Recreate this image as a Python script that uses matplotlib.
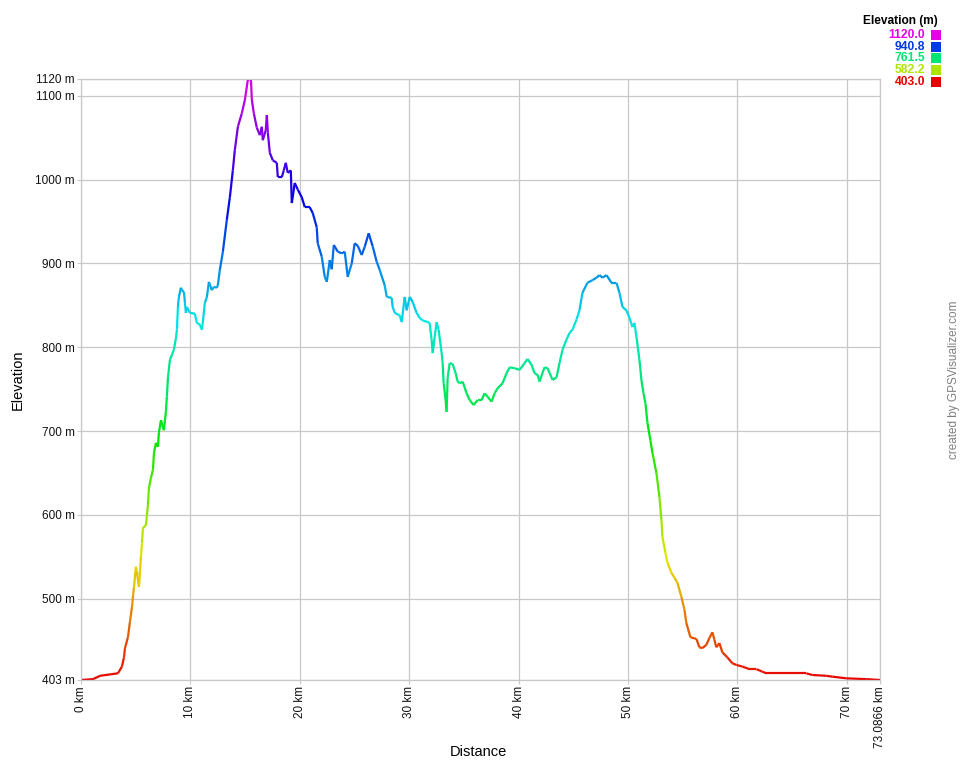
import numpy as np
import matplotlib
matplotlib.use("Agg")
import matplotlib.pyplot as plt
from matplotlib.collections import LineCollection
from matplotlib.colors import hsv_to_rgb
from matplotlib.patches import Rectangle

plt.rcParams['font.family'] = ['Liberation Sans', 'DejaVu Sans']

# track profile: distance (km) and elevation (m)
dist_km = [
    0.00, 1.10, 1.74, 2.83, 3.38, 3.74, 3.93, 4.02, 4.29, 4.47, 4.66, 4.75, 4.84,
    5.02, 5.11, 5.30, 5.48, 5.57, 5.66, 5.94, 6.03, 6.12, 6.21, 6.39, 6.58, 6.67,
    6.85, 7.03, 7.12, 7.31, 7.58, 7.76, 7.85, 7.95, 8.13, 8.31, 8.49, 8.68, 8.77,
    8.86, 8.95, 9.13, 9.22, 9.41, 9.50, 9.59, 9.68, 9.95, 10.41, 10.59, 10.87,
    11.05, 11.14, 11.32, 11.51, 11.69, 11.96, 12.15, 12.42, 12.51, 12.69, 12.97,
    13.33, 13.61, 13.88, 14.06, 14.34, 14.70, 14.98, 15.25, 15.53, 15.62, 15.80,
    16.07, 16.35, 16.53, 16.62, 16.89, 16.99, 17.08, 17.26, 17.53, 17.90, 17.99,
    18.36, 18.54, 18.72, 18.90, 19.18, 19.27, 19.54, 19.82, 20.18, 20.46, 20.91,
    21.19, 21.55, 21.64, 22.01, 22.28, 22.47, 22.74, 22.92, 23.11, 23.47, 23.84,
    24.11, 24.38, 24.75, 25.02, 25.30, 25.66, 25.94, 26.30, 26.67, 27.03, 27.31,
    27.76, 27.95, 28.40, 28.49, 28.68, 29.13, 29.32, 29.59, 29.77, 30.05, 30.32,
    30.68, 30.96, 31.23, 31.69, 31.87, 32.05, 32.15, 32.33, 32.51, 32.69, 32.97,
    33.06, 33.15, 33.33, 33.42, 33.52, 33.70, 33.97, 34.25, 34.43, 34.61, 34.89,
    35.25, 35.53, 35.89, 36.26, 36.62, 36.89, 37.17, 37.53, 37.81, 38.08, 38.54,
    38.90, 39.18, 39.63, 40.09, 40.55, 40.82, 41.19, 41.46, 41.74, 41.92, 42.37,
    42.65, 43.11, 43.47, 43.74, 44.02, 44.38, 44.66, 44.93, 45.30, 45.57, 45.84,
    46.30, 46.76, 47.12, 47.40, 47.67, 48.04, 48.49, 48.95, 49.22, 49.50, 49.86,
    50.14, 50.41, 50.59, 50.78, 51.05, 51.23, 51.42, 51.60, 51.78, 52.05, 52.24,
    52.60, 52.88, 53.06, 53.15, 53.42, 53.61, 53.97, 54.25, 54.52, 54.89, 55.16,
    55.34, 55.71, 56.26, 56.53, 56.80, 57.17, 57.44, 57.72, 57.90, 58.08, 58.36,
    58.63, 59.09, 59.54, 59.91, 60.46, 61.10, 61.74, 62.28, 62.65, 64.47, 66.30,
    66.85, 68.13, 68.68, 69.95, 71.78, 73.0866]
elev_m = [
    403, 404, 408, 410, 411, 419, 430, 441, 454, 472, 490, 502, 513,
    538, 532, 514, 550, 566, 584, 588, 600, 612, 632, 644, 654, 674,
    686, 681, 698, 713, 701, 723, 741, 764, 785, 791, 797, 811, 821,
    848, 860, 871, 868, 866, 853, 841, 848, 841, 840, 829, 827,
    821, 830, 853, 860, 878, 868, 872, 871, 874, 892, 914,
    952, 979, 1011, 1035, 1063, 1079, 1095, 1119, 1120, 1095, 1079,
    1062, 1053, 1063, 1047, 1059, 1077, 1056, 1032, 1023, 1020, 1003,
    1003, 1011, 1020, 1008, 1011, 972, 996, 988, 979, 967, 967,
    960, 943, 924, 908, 884, 878, 904, 893, 922, 914, 912,
    914, 884, 900, 924, 921, 910, 920, 936, 920, 902, 892,
    874, 860, 859, 848, 841, 838, 830, 860, 844, 860, 854,
    841, 835, 832, 830, 829, 809, 793, 812, 830, 821, 793,
    781, 757, 737, 723, 764, 781, 780, 769, 759, 757, 759,
    745, 737, 731, 737, 737, 745, 741, 735, 745, 751, 757,
    769, 776, 775, 773, 781, 786, 779, 769, 767, 759, 776,
    775, 761, 764, 781, 797, 809, 817, 821, 833, 844, 865,
    877, 880, 883, 886, 883, 886, 877, 877, 865, 848, 844,
    835, 824, 829, 812, 785, 761, 745, 733, 710, 689, 674,
    650, 621, 594, 574, 555, 543, 531, 525, 519, 502, 487,
    471, 454, 452, 442, 441, 445, 453, 460, 451, 442, 447,
    436, 430, 423, 421, 419, 416, 416, 413, 411, 411, 411,
    409, 408, 407, 405, 404, 403]

x_ticks = [0, 10, 20, 30, 40, 50, 60, 70, 73.0866]
x_labels = ['0 km', '10 km', '20 km', '30 km', '40 km', '50 km', '60 km', '70 km', '73.0866 km']
y_ticks = [403, 500, 600, 700, 800, 900, 1000, 1100, 1120]
y_labels = ['403 m', '500 m', '600 m', '700 m', '800 m', '900 m', '1000 m', '1100 m', '1120 m']
legend_vals = [1120.0, 940.8, 761.5, 582.2, 403.0]

e_min, e_max = 403.0, 1120.0


def elev_color(e):
    # hue runs red -> magenta over the elevation range
    f = np.clip((np.asarray(e) - e_min) / (e_max - e_min), 0, 1)
    hsv = np.stack([f * 300 / 360, np.ones_like(f), np.full_like(f, 0.9)], axis=-1)
    return hsv_to_rgb(hsv)


W, H = 960, 760
fig = plt.figure(figsize=(W / 100, H / 100), dpi=100)
left, right, top, bottom = 81, 880.5, 79, 680
ax = fig.add_axes([left / W, 1 - bottom / H, (right - left) / W, (bottom - top) / H])

x = np.array(dist_km)
y = np.array(elev_m, dtype=float)
pts = np.column_stack([x, y]).reshape(-1, 1, 2)
segs = np.concatenate([pts[:-1], pts[1:]], axis=1)
mid = (y[:-1] + y[1:]) / 2
lc = LineCollection(segs, colors=elev_color(mid), linewidth=1.6, capstyle='butt', joinstyle='miter')
ax.add_collection(lc)

ax.set_xlim(0, 73.0866)
ax.set_ylim(e_min, e_max)
ax.set_xticks(x_ticks)
ax.set_xticklabels(x_labels, rotation=90, fontsize=8.5)
ax.set_yticks(y_ticks)
ax.set_yticklabels(y_labels, fontsize=8.5)
ax.tick_params(axis='both', length=3, width=0.8, color='#c8c8c8', pad=1.5, labelcolor='#111111')
ax.grid(True, color='#c8c8c8', linewidth=0.9)
ax.set_axisbelow(True)
for s in ax.spines.values():
    s.set_color('#c8c8c8')
    s.set_linewidth(0.9)

fig.text(18 / W, 1 - 380 / H, 'Elevation', rotation=90, ha='center', va='center', fontsize=10.5)
fig.text(478 / W, 1 - 752 / H, 'Distance', ha='center', va='center', fontsize=10.5)
fig.text(954 / W, 1 - 380 / H, 'created by GPSVisualizer.com', rotation=90, ha='center', va='center',
         fontsize=8.5, color='#808080')

# colour key in the top right corner
fig.text(938 / W, 1 - 21 / H, 'Elevation (m)', ha='right', va='center', fontsize=8.6, fontweight='bold')
row_y = [35, 47, 58, 70, 82]
for v, ry in zip(legend_vals, row_y):
    c = elev_color(v)
    fig.text(925 / W, 1 - ry / H, f'{v:.1f}', ha='right', va='center', fontsize=8.7,
             fontweight='bold', color=c)
    fig.patches.append(Rectangle((931 / W, 1 - (ry + 5) / H), 10 / W, 10 / H,
                                 transform=fig.transFigure, facecolor=c, edgecolor='none'))

fig.savefig('out.png', dpi=100)
